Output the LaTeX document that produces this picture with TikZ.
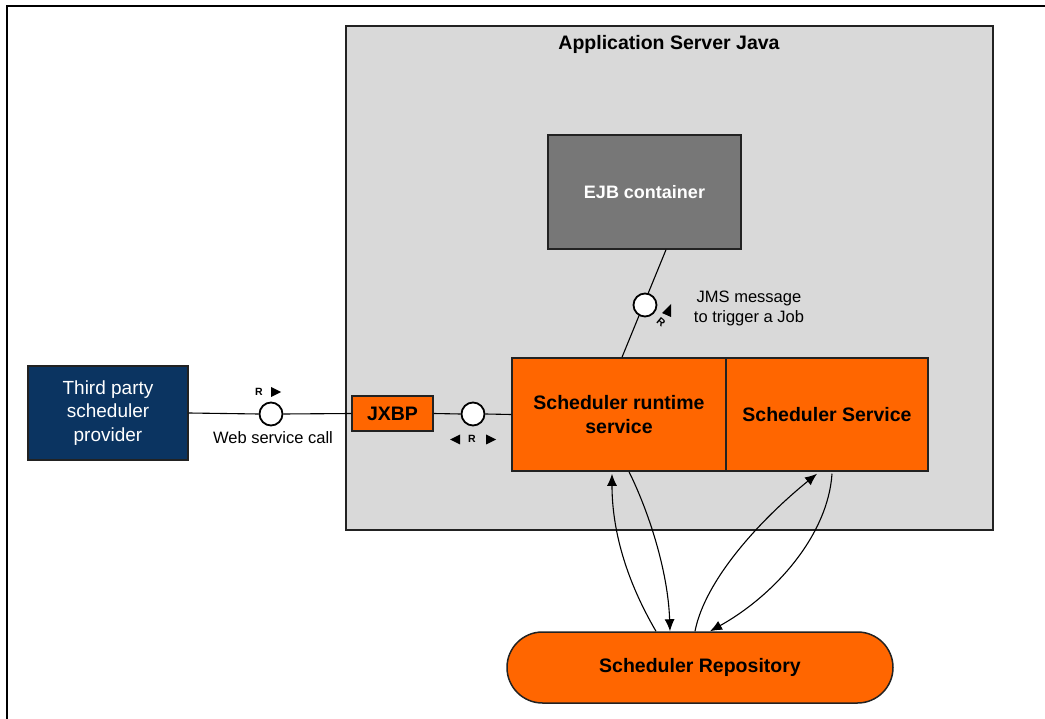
\documentclass[tikz,border=0pt]{standalone}
\usepackage{fontspec}
\setmainfont{Liberation Sans}
\usetikzlibrary{arrows.meta}
\definecolor{sorange}{HTML}{FF6600}
\definecolor{snavy}{HTML}{0B3461}
\definecolor{sejb}{HTML}{777777}
\definecolor{sserver}{HTML}{D9D9D9}
\definecolor{sborder}{HTML}{222222}
\tikzset{
  boxbase/.style={draw=sborder, line width=1.5pt, inner sep=0pt, align=center},
  orangebox/.style={boxbase, fill=sorange, text=black, font=\fontsize{19.5}{24}\selectfont\bfseries},
  navybox/.style={boxbase, fill=snavy, text=white, font=\fontsize{19}{23.5}\selectfont},
  ejbbox/.style={boxbase, fill=sejb, text=white, font=\fontsize{18}{22}\selectfont\bfseries},
  iface/.style={circle, draw=black, line width=1.8pt, fill=white, minimum size=23pt, inner sep=0pt},
  conn/.style={draw=black, line width=1.1pt},
  flow/.style={draw=black, line width=1.1pt, -{Latex[length=12pt,width=10pt]}},
  lbl/.style={font=\fontsize{16.5}{20}\selectfont, align=center, inner sep=0pt},
  rlbl/.style={font=\fontsize{10.5}{12}\selectfont\bfseries, inner sep=0pt},
  tri/.style={fill=black}
}
\begin{document}
\begin{tikzpicture}[x=1pt,y=-1pt]
\useasboundingbox (0,0) rectangle (1045,719);
\fill[white] (0,0) rectangle (1045,719);
\draw[line width=2pt] (7,719) -- (7,6) -- (1045,6);

% application server
\node[draw=sborder, line width=1.5pt, fill=sserver, minimum width=647pt, minimum height=504pt, inner sep=0pt] (server) at (669.5,278) {};
\node[font=\fontsize{19.5}{24}\selectfont\bfseries, inner sep=0pt] (title) at (669,44) {Application Server Java};

% boxes
\node[ejbbox, minimum width=193pt, minimum height=114pt] (ejb) at (644.5,192) {EJB container};
\node[orangebox, minimum width=214pt, minimum height=113pt] (rt) at (619,414.5) {Scheduler runtime\\service};
\node[orangebox, minimum width=202pt, minimum height=113pt] (ss) at (827,414.5) {Scheduler Service};
\node[orangebox, minimum width=81pt, minimum height=35pt] (jxbp) at (392.5,413.5) {JXBP};
\node[navybox, minimum width=160pt, minimum height=94pt] (third) at (108,413) {Third party\\scheduler\\provider};
\node[orangebox, minimum width=386pt, minimum height=71pt, rounded corners=35.5pt] (repo) at (700,667.5) {Scheduler Repository};

% interfaces
\node[iface] (c1) at (271,414) {};
\node[iface] (c2) at (473,414) {};
\coordinate (ejbout) at ([xshift=21.5pt]ejb.south);
\coordinate (rtin) at ([xshift=3pt]rt.north);
\draw[conn] (ejbout) -- (rtin);
\node[iface] (c3) at (645,305) {};

\draw[conn] (third.east) -- (c1.west);
\draw[conn] (c1.east) -- (jxbp.west);
\draw[conn] (jxbp.east) -- (c2.west);
\draw[conn] (c2.east) -- (rt.west);

% labels
\node[lbl] (wsc) at (273,438) {Web service call};
\node[lbl] (jms) at (749,308) {JMS message\\to trigger a Job};

% R markers
\node[rlbl] (r1) at (259,392) {R};
\fill[tri] (271,387) -- (281,392) -- (271,397) -- cycle;
\node[rlbl] (r2) at (472,439) {R};
\fill[tri] (460,434.5) -- (450,439.5) -- (460,444.5) -- cycle;
\fill[tri] (486,434.5) -- (496,439.5) -- (486,444.5) -- cycle;
\node[rlbl, rotate=-40] (r3) at (661,322) {R};
\fill[tri] (662,313) -- (671,304) -- (671,317) -- cycle;

% data flows
\coordinate (a1s) at ([xshift=-44pt]repo.north);
\coordinate (a1e) at ([xshift=-7pt,yshift=-2pt]rt.south);
\coordinate (a2s) at ([xshift=10pt]rt.south);
\coordinate (a2e) at ([xshift=-30pt]repo.north);
\coordinate (a3s) at ([xshift=-5pt]repo.north);
\coordinate (a3e) at ([xshift=-10pt,yshift=-2pt]ss.south);
\coordinate (a4s) at ([xshift=5pt,yshift=-2pt]ss.south);
\coordinate (a4e) at ([xshift=10pt]repo.north);
\draw[flow] (a1s) .. controls (626,580) and (612,530) .. (a1e);
\draw[flow] (a2s) .. controls (648,510) and (668,570) .. (a2e);
\draw[flow] (a3s) .. controls (705,580) and (760,520) .. (a3e);
\draw[flow] (a4s) .. controls (828,535) and (775,595) .. (a4e);
\end{tikzpicture}
\end{document}
